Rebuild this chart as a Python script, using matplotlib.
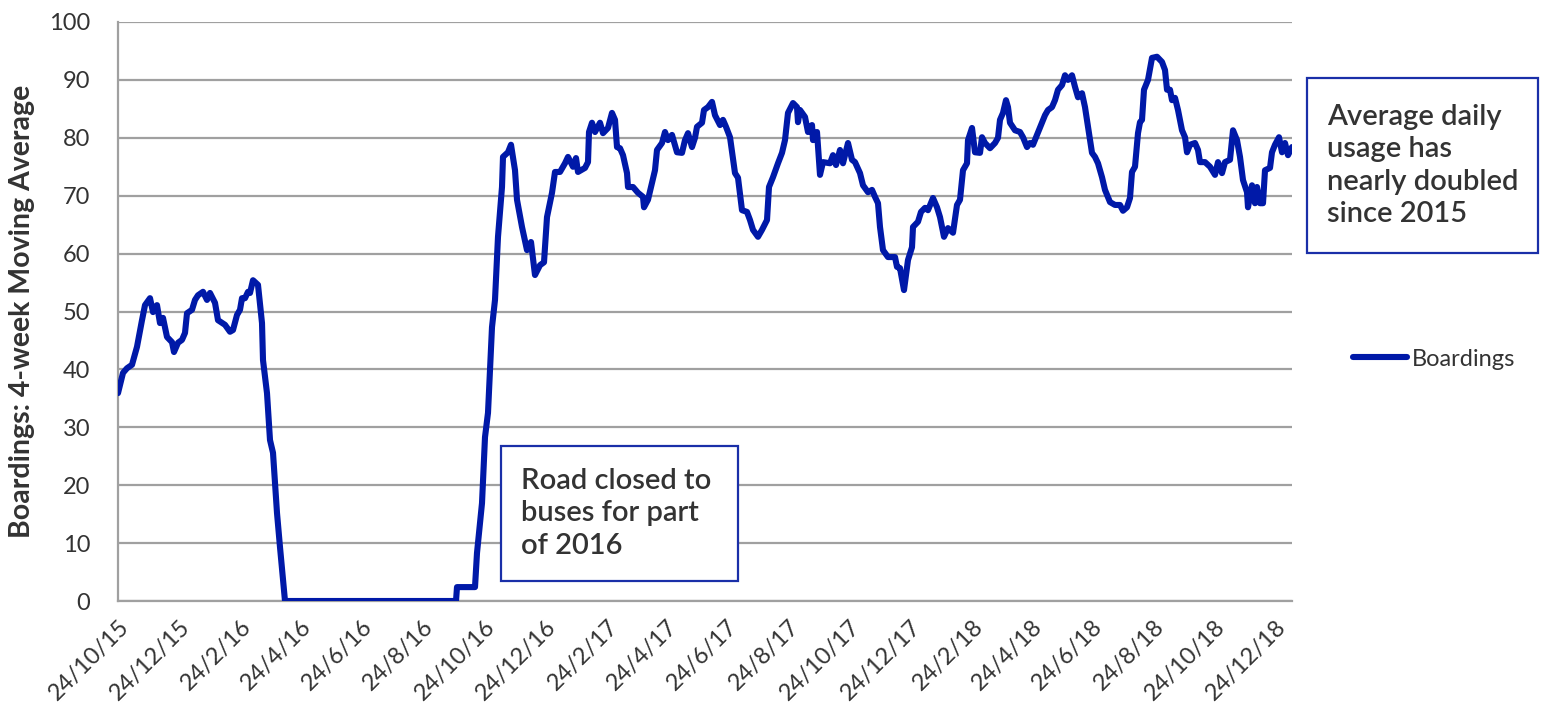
import pandas as pd
import matplotlib
matplotlib.use("Agg")
import matplotlib.pyplot as plt
from matplotlib.patches import Rectangle

plt.rcParams["font.family"] = ["Lato", "DejaVu Sans"]

# === data: 4-week moving average of boardings ===
start_date = "2015-10-24"
day_offset = [
    0, 5, 9, 14, 19, 24, 27, 32, 35, 39, 42, 45, 49, 54, 56, 60, 64, 67, 69, 74,
    77, 80, 85, 89, 92, 97, 100, 107, 112, 115, 119, 122, 124, 127, 130, 132, 135, 140, 144, 145,
    149, 152, 155, 159, 162, 167, 338, 339, 357, 359, 364, 367, 370, 374, 377, 380, 384, 385, 390, 393,
    397, 399, 404, 409, 413, 417, 422, 426, 429, 434, 437, 442, 447, 450, 455, 458, 460, 467, 470, 471,
    474, 477, 482, 485, 490, 494, 497, 499, 502, 505, 509, 510, 515, 520, 525, 526, 530, 534, 537, 539,
    544, 547, 550, 554, 559, 564, 567, 570, 574, 577, 579, 584, 586, 590, 594, 597, 602, 605, 608, 612,
    617, 620, 624, 629, 632, 635, 640, 644, 649, 651, 655, 660, 664, 667, 670, 675, 679, 680, 682, 687,
    690, 694, 695, 699, 702, 705, 712, 715, 718, 722, 725, 730, 734, 737, 742, 745, 750, 754, 757, 760,
    762, 765, 770, 777, 779, 782, 786, 790, 794, 795, 800, 803, 807, 810, 815, 819, 822, 826, 830, 835,
    839, 842, 845, 849, 850, 854, 857, 862, 864, 867, 872, 877, 880, 882, 885, 888, 890, 892, 897, 902,
    905, 909, 912, 915, 919, 923, 927, 930, 934, 937, 940, 944, 947, 950, 954, 957, 960, 964, 967, 970,
    974, 977, 980, 984, 987, 992, 997, 1002, 1005, 1009, 1012, 1014, 1017, 1020, 1022, 1024, 1026, 1030, 1034, 1039,
    1044, 1047, 1049, 1052, 1054, 1057, 1060, 1064, 1067, 1069, 1072, 1077, 1080, 1082, 1087, 1092, 1097, 1100, 1104, 1107,
    1112, 1115, 1119, 1122, 1125, 1129, 1130, 1134, 1137, 1139, 1142, 1145, 1147, 1152, 1154, 1157, 1161, 1164, 1167, 1170,
    1174,
]
boardings = [
    35.9, 39.4, 40.2, 40.8, 43.9, 48.5, 51.1, 52.3, 49.9, 51.1, 48.0, 48.9, 45.6, 44.7, 43.0, 44.6, 45.1, 46.3, 49.7, 50.3,
    52.0, 52.8, 53.4, 52.0, 53.2, 51.5, 48.5, 47.7, 46.5, 46.8, 49.4, 50.3, 52.3, 52.3, 53.4, 53.2, 55.4, 54.6, 48.0, 41.6,
    35.9, 27.8, 25.6, 15.2, 9.3, 0.0, 0.0, 2.4, 2.4, 8.3, 16.9, 28.3, 32.5, 47.3, 52.0, 62.9, 71.5, 76.7, 77.5, 78.8,
    74.4, 69.3, 64.6, 60.6, 62.0, 56.3, 58.0, 58.5, 66.3, 70.5, 74.1, 74.1, 75.6, 76.7, 75.0, 76.5, 74.1, 74.8, 75.8, 81.0,
    82.6, 81.0, 82.6, 80.8, 81.7, 84.3, 83.1, 78.4, 78.2, 77.0, 73.9, 71.5, 71.5, 70.5, 69.8, 68.0, 69.3, 72.2, 74.4, 77.9,
    79.1, 81.0, 79.6, 80.5, 77.5, 77.4, 79.6, 80.8, 78.4, 80.0, 81.9, 82.6, 84.8, 85.3, 86.2, 83.9, 82.2, 83.1, 81.9, 80.1,
    73.9, 73.1, 67.5, 67.2, 65.8, 64.1, 62.9, 64.1, 65.8, 71.5, 73.2, 75.6, 77.4, 79.6, 84.3, 86.0, 85.3, 82.7, 84.8, 83.6,
    81.0, 82.2, 79.6, 81.0, 73.6, 75.8, 75.6, 77.0, 75.3, 77.9, 75.6, 79.1, 76.2, 75.8, 73.9, 71.8, 70.6, 71.0, 69.8, 68.7,
    64.6, 60.6, 59.4, 59.4, 57.7, 57.5, 53.7, 58.9, 61.1, 64.6, 65.5, 67.2, 67.9, 67.5, 69.6, 68.0, 66.3, 62.9, 64.4, 63.6,
    68.4, 69.3, 74.4, 75.6, 79.6, 81.7, 77.5, 77.4, 80.1, 79.1, 78.2, 79.1, 80.0, 83.1, 84.3, 86.5, 85.3, 82.6, 81.3, 81.0,
    80.1, 78.4, 79.1, 78.8, 80.5, 82.2, 83.9, 84.8, 85.3, 86.5, 88.3, 89.1, 90.8, 90.0, 90.8, 88.8, 87.0, 87.7, 85.3, 81.9,
    77.4, 76.7, 75.6, 73.2, 71.0, 68.9, 68.4, 68.4, 67.4, 68.0, 69.6, 74.1, 75.0, 80.8, 82.7, 83.1, 88.3, 90.0, 93.8, 94.0,
    93.1, 91.7, 88.3, 88.3, 86.5, 86.9, 84.8, 81.3, 80.1, 77.5, 78.8, 79.1, 77.9, 75.8, 75.8, 75.0, 73.6, 75.8, 73.9, 75.8,
    76.2, 81.3, 79.6, 76.7, 72.7, 70.6, 68.0, 71.8, 68.7, 71.5, 68.7, 68.7, 74.4, 74.8, 77.5, 78.8, 80.1, 77.5, 79.1, 77.0,
    78.4,
]
tick_labels = [
    "24/10/15", "24/12/15", "24/2/16", "24/4/16", "24/6/16", "24/8/16", "24/10/16",
    "24/12/16", "24/2/17", "24/4/17", "24/6/17", "24/8/17", "24/10/17", "24/12/17",
    "24/2/18", "24/4/18", "24/6/18", "24/8/18", "24/10/18", "24/12/18",
]
y_ticks = [0, 10, 20, 30, 40, 50, 60, 70, 80, 90, 100]

dates = pd.Timestamp(start_date) + pd.to_timedelta(day_offset, unit="D")
tick_dates = pd.to_datetime(tick_labels, format="%d/%m/%y")

line_color = "#0019a8"
grid_color = "#a0a0a0"
text_color = "#333333"

# === figure ===
fig = plt.figure(figsize=(15.41, 7.06), dpi=100)
ax = fig.add_axes([118 / 1541, 1 - 601 / 706, (1292 - 118) / 1541, (601 - 22) / 706])

ax.plot(dates, boardings, color=line_color, linewidth=4.4,
        solid_joinstyle="round", solid_capstyle="round", label="Boardings", zorder=3)

ax.set_xlim(dates[0], dates[-1])
ax.set_ylim(0, 100)
ax.set_yticks(y_ticks)
ax.set_xticks(tick_dates)
ax.set_xticklabels(tick_labels, rotation=45, ha="right", va="top", rotation_mode="anchor")
ax.tick_params(axis="both", length=0, labelsize=17, colors=text_color)
ax.tick_params(axis="y", pad=20)
ax.tick_params(axis="x", pad=11)

ax.grid(axis="y", color=grid_color, linewidth=1.6)
ax.set_axisbelow(True)
for side in ["top", "right"]:
    ax.spines[side].set_visible(False)
for side in ["left", "bottom"]:
    ax.spines[side].set_color(grid_color)
    ax.spines[side].set_linewidth(1.6)

ax.set_ylabel("Boardings: 4-week Moving Average", fontsize=20.5, fontweight="bold",
              color=text_color, labelpad=10)

# === legend ===
fig.legend(loc="center left", bbox_to_anchor=(1353 / 1541, 1 - 359 / 706), frameon=False,
           fontsize=17, handlelength=2.3, handletextpad=0.2, borderpad=0, borderaxespad=0,
           labelcolor=text_color)

# === annotation boxes ===
box_color = "#1a2fa8"
boxes = [
    ((501, 446, 738, 581), 521, "Road closed to\nbuses for part\nof 2016"),
    ((1307, 78, 1538, 253), 1327, "Average daily\nusage has\nnearly doubled\nsince 2015"),
]
for (x0, y0, x1, y1), tx, txt in boxes:
    fig.patches.append(Rectangle((x0 / 1541, 1 - y1 / 706), (x1 - x0) / 1541, (y1 - y0) / 706,
                                 transform=fig.transFigure, fill=True, facecolor="white",
                                 edgecolor=box_color, linewidth=1.6, zorder=5))
    fig.text(tx / 1541, 1 - (y0 + y1) / 2 / 706, txt, ha="left", va="center", fontsize=21,
             fontweight="semibold", color=text_color, linespacing=1.3, zorder=6)

fig.savefig("out.png", dpi=100)
